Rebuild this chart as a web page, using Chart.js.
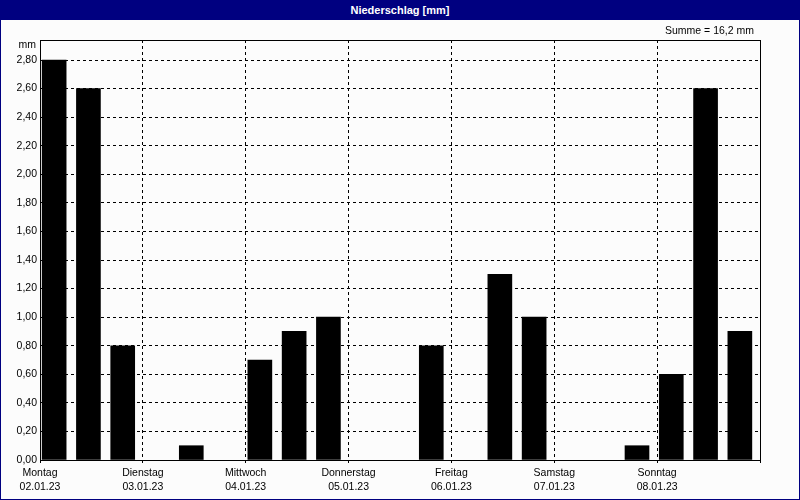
<!DOCTYPE html>
<html>
<head>
<meta charset="utf-8">
<script src="https://cdn.jsdelivr.net/npm/chart.js@4/dist/chart.umd.min.js"></script>
<style>
  body { margin: 0; background: #fff; }
  #head {
    width: 800px; height: 20px; background: #000080; color: #fff;
    font: bold 11px 'Liberation Sans', Arial, sans-serif;
    text-align: center; line-height: 20px;
  }
  #box {
    width: 800px; height: 480px; box-sizing: border-box;
    border: 1px solid #000080; border-top: 0; background: #fcfcfc;
  }
  #wrap { position: relative; width: 798px; height: 479px; }
</style>
</head>
<body>
<div id="head">Niederschlag [mm]</div>
<div id="box"><div id="wrap"><canvas id="rainChart"></canvas></div></div>
<script>
const days = ['Montag', 'Dienstag', 'Mittwoch', 'Donnerstag', 'Freitag', 'Samstag', 'Sonntag'];
const dates = ['02.01.23', '03.01.23', '04.01.23', '05.01.23', '06.01.23', '07.01.23', '08.01.23'];
const slotsPerDay = 3;
// precipitation per 8h interval, mm
const rain = [2.8, 2.6, 0.8, 0, 0.1, 0, 0.7, 0.9, 1.0, 0, 0, 0.8, 0, 1.3, 1.0, 0, 0, 0.1, 0.6, 2.6, 0.9];
const yTicks = [0, 0.2, 0.4, 0.6, 0.8, 1.0, 1.2, 1.4, 1.6, 1.8, 2.0, 2.2, 2.4, 2.6, 2.8];
const unit = 'mm';

const fmt = (v, d) => v.toFixed(d).replace('.', ',');
const total = rain.reduce((a, b) => a + b, 0);
const fontFamily = "'Liberation Sans Narrow', 'Liberation Sans', Arial, sans-serif";

Chart.defaults.font.family = fontFamily;
Chart.defaults.font.size = 10.5;
Chart.defaults.color = '#000';

const framePlugin = {
    id: 'frame',
    beforeDatasetsDraw(chart) {
        // bars sit slightly left of the middle of their 8h slot
        chart.ctx.save();
        chart.ctx.translate(-3, 0);
    },
    afterDatasetsDraw(chart) {
        const ctx = chart.ctx;
        ctx.restore();
        const { left, top, right, bottom } = chart.chartArea;
        ctx.save();
        ctx.strokeStyle = '#000';
        ctx.lineWidth = 1;
        ctx.setLineDash([]);
        ctx.strokeRect(Math.round(left) + 0.5, Math.round(top) + 0.5, Math.round(right - left), Math.round(bottom - top));
        ctx.fillStyle = '#000';
        ctx.font = '10.5px ' + fontFamily;
        ctx.textBaseline = 'middle';
        ctx.textAlign = 'right';
        ctx.fillText(unit, left - 4, top + 5);
        ctx.fillText('Summe = ' + fmt(total, 1) + ' ' + unit, right - 6, 11);
        ctx.restore();
    }
};

new Chart(document.getElementById('rainChart'), {
    type: 'bar',
    data: {
        datasets: [{
            data: rain.map((v, i) => ({ x: i + 0.5, y: v || null })),
            backgroundColor: '#000',
            barThickness: 24
        }]
    },
    options: {
        responsive: true,
        maintainAspectRatio: false,
        animation: false,
        layout: { padding: { top: 20, right: 39, bottom: 0, left: 0 } },
        plugins: {
            legend: { display: false },
            tooltip: { enabled: false }
        },
        scales: {
            x: {
                type: 'linear',
                min: 0,
                max: rain.length,
                offset: false,
                afterBuildTicks: (s) => {
                    s.ticks = days.map((d, i) => ({ value: i * slotsPerDay })).concat({ value: rain.length });
                },
                afterFit: (s) => { s.height = 39; },
                ticks: {
                    autoSkip: false,
                    maxRotation: 0,
                    padding: 4,
                    font: { lineHeight: 1.25 },
                    callback: (v) => {
                        const i = v / slotsPerDay;
                        return i < days.length ? [days[i], dates[i]] : '';
                    }
                },
                grid: { color: '#000', offset: false, tickLength: 3, tickBorderDash: [2, 2] },
                border: { color: '#000', dash: [3, 3] }
            },
            y: {
                min: 0,
                max: 2.94,
                afterBuildTicks: (s) => {
                    s.ticks = yTicks.map((v) => ({ value: v }));
                },
                afterFit: (s) => { s.width = 39; },
                ticks: {
                    padding: 3,
                    callback: (v) => fmt(v, 2)
                },
                grid: { color: '#000', drawTicks: false },
                border: { color: '#000', dash: [3, 3] }
            }
        }
    },
    plugins: [framePlugin]
});
</script>
</body>
</html>
